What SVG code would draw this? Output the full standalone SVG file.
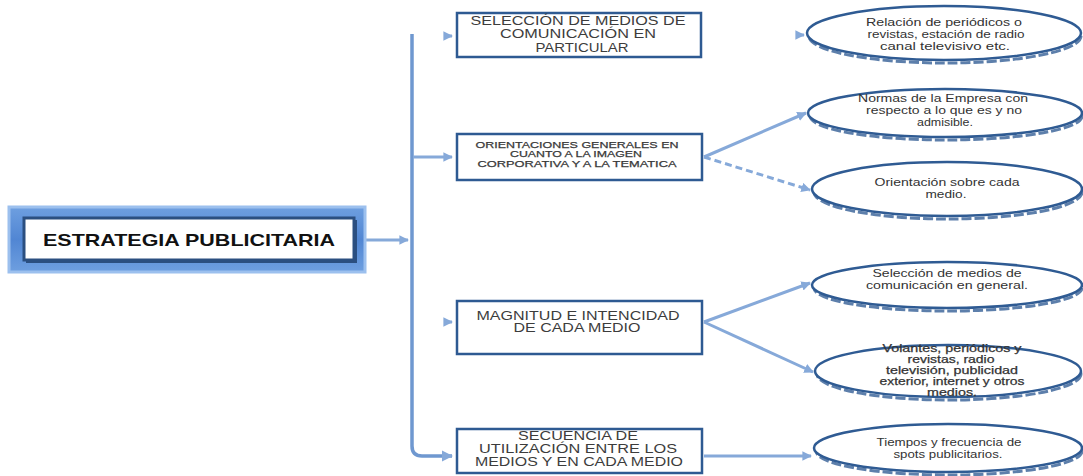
<svg xmlns="http://www.w3.org/2000/svg" width="1083" height="476" viewBox="0 0 1083 476">
  <defs>
    <style>
      .box { fill: #ffffff; stroke: #2e5a92; stroke-width: 2.5; }
      .oval { fill: #ffffff; stroke: #2f5b93; stroke-width: 2.5; }
      .oshadow { fill: none; stroke: #5d7fab; stroke-width: 3; stroke-dasharray: 10 3; }
      .bt { font-family: "Liberation Sans", Arial, sans-serif; fill: #3c3c3c; text-anchor: middle; }
      .et { font-family: "Liberation Sans", Arial, sans-serif; font-size: 11.5px; fill: #333333; text-anchor: middle; }
      .heavy { stroke: #333333; stroke-width: 0.25; }
      .wire { fill: none; stroke: #86a9d9; stroke-width: 3; }
      .trunk { fill: none; stroke: #6f98d0; stroke-width: 3.5; }
    </style>
    <marker id="arr" viewBox="0 0 10 10" refX="9" refY="5" markerWidth="3.2" markerHeight="3.2" orient="auto" markerUnits="strokeWidth">
      <path d="M0,0 L10,5 L0,10 Z" fill="#86a9d9"/>
    </marker>
    <linearGradient id="frame" x1="0" y1="0" x2="0" y2="1">
      <stop offset="0" stop-color="#6e9fe0"/>
      <stop offset="0.5" stop-color="#5186d3"/>
      <stop offset="1" stop-color="#6e9fe0"/>
    </linearGradient>
  </defs>

  <!-- connectors -->
  <g id="connectors">
    <path class="trunk" d="M412,34 V446 Q412,456 422,456 H452" marker-end="url(#arr)"/>
    <path class="wire" d="M366,240 H408" marker-end="url(#arr)"/>
    <path class="wire" d="M413,157 H452" marker-end="url(#arr)"/>
    <path class="wire" d="M444,36 H452" marker-end="url(#arr)"/>
    <path class="wire" d="M444,322 H452" marker-end="url(#arr)"/>
    <path class="wire" d="M796,35 H804" marker-end="url(#arr)"/>
    <path class="wire" d="M704,157 L806,113" marker-end="url(#arr)"/>
    <path class="wire" d="M704,157 L810,190" stroke-dasharray="7 4" marker-end="url(#arr)"/>
    <path class="wire" d="M704,322 L810,283" marker-end="url(#arr)"/>
    <path class="wire" d="M704,322 L813,372" marker-end="url(#arr)"/>
    <path class="wire" d="M704,456 H811" marker-end="url(#arr)"/>
  </g>

  <!-- root node -->
  <g id="estrategia">
    <rect x="9" y="207" width="356" height="65" fill="url(#frame)" stroke="#9cc0ee" stroke-width="3"/>
    <rect x="26" y="220" width="331" height="43" fill="#2b4f80"/>
    <rect x="24" y="218" width="330" height="42" fill="#ffffff" stroke="#2b4f80" stroke-width="3"/>
    <text x="189" y="246" font-family="Liberation Sans, Arial, sans-serif" font-weight="bold" font-size="17" fill="#111" text-anchor="middle" textLength="292" lengthAdjust="spacingAndGlyphs">ESTRATEGIA PUBLICITARIA</text>
  </g>

  <!-- second level boxes -->
  <g id="seleccion">
    <rect class="box" x="457" y="13" width="244" height="44"/>
    <text class="bt" font-size="13.5"><tspan x="578" y="25" textLength="215" lengthAdjust="spacingAndGlyphs">SELECCIÓN DE MEDIOS DE</tspan><tspan x="578" y="38" textLength="156" lengthAdjust="spacingAndGlyphs">COMUNICACIÓN EN</tspan><tspan x="582" y="52" textLength="93" lengthAdjust="spacingAndGlyphs">PARTICULAR</tspan></text>
  </g>

  <g id="orientaciones">
    <rect class="box" x="457" y="134" width="245" height="46"/>
    <text class="bt heavy" font-size="9.5" style="stroke-width:0.25"><tspan x="577" y="148" textLength="203" lengthAdjust="spacingAndGlyphs">ORIENTACIONES GENERALES EN</tspan><tspan x="576" y="157" textLength="132" lengthAdjust="spacingAndGlyphs">CUANTO A LA IMAGEN</tspan><tspan x="577" y="167" textLength="199" lengthAdjust="spacingAndGlyphs">CORPORATIVA Y A LA TEMATICA</tspan></text>
  </g>

  <g id="magnitud">
    <rect class="box" x="457" y="301" width="245" height="53"/>
    <text class="bt" font-size="12.5"><tspan x="578" y="320" textLength="203" lengthAdjust="spacingAndGlyphs">MAGNITUD E INTENCIDAD</tspan><tspan x="577" y="332" textLength="127" lengthAdjust="spacingAndGlyphs">DE CADA MEDIO</tspan></text>
  </g>

  <g id="secuencia">
    <rect class="box" x="457" y="429" width="245" height="44"/>
    <text class="bt" font-size="12.5"><tspan x="578" y="440" textLength="120" lengthAdjust="spacingAndGlyphs">SECUENCIA DE</tspan><tspan x="578" y="453" textLength="198" lengthAdjust="spacingAndGlyphs">UTILIZACIÓN ENTRE LOS</tspan><tspan x="579" y="466" textLength="208" lengthAdjust="spacingAndGlyphs">MEDIOS Y EN  CADA MEDIO</tspan></text>
  </g>

  <!-- third level ovals -->
  <g id="relacion">
    <ellipse class="oshadow" cx="945" cy="36" rx="136" ry="27"/>
    <ellipse class="oval" cx="944" cy="33" rx="137" ry="27"/>
    <text class="et"><tspan x="944" y="26" textLength="156" lengthAdjust="spacingAndGlyphs">Relación de periódicos o</tspan><tspan x="946" y="38" textLength="157" lengthAdjust="spacingAndGlyphs">revistas, estación de radio</tspan><tspan x="945" y="50" textLength="130" lengthAdjust="spacingAndGlyphs">canal televisivo etc.</tspan></text>
  </g>

  <g id="normas">
    <ellipse class="oshadow" cx="946" cy="116" rx="136" ry="24"/>
    <ellipse class="oval" cx="945" cy="113" rx="137" ry="24"/>
    <text class="et"><tspan x="943" y="102" textLength="170" lengthAdjust="spacingAndGlyphs">Normas de la Empresa con</tspan><tspan x="944" y="114" textLength="156" lengthAdjust="spacingAndGlyphs">respecto a lo que es y  no</tspan><tspan x="945" y="126" textLength="56" lengthAdjust="spacingAndGlyphs">admisible.</tspan></text>
  </g>

  <g id="orientacion">
    <ellipse class="oshadow" cx="948" cy="192" rx="134" ry="27"/>
    <ellipse class="oval" cx="947" cy="189" rx="135" ry="27"/>
    <text class="et"><tspan x="947" y="186" textLength="145" lengthAdjust="spacingAndGlyphs">Orientación sobre cada</tspan><tspan x="946" y="198" textLength="41" lengthAdjust="spacingAndGlyphs">medio.</tspan></text>
  </g>

  <g id="medios-general">
    <ellipse class="oshadow" cx="948" cy="288" rx="134" ry="23"/>
    <ellipse class="oval" cx="947" cy="285" rx="135" ry="23"/>
    <text class="et"><tspan x="947" y="277" textLength="149" lengthAdjust="spacingAndGlyphs">Selección de medios de</tspan><tspan x="947" y="289" textLength="162" lengthAdjust="spacingAndGlyphs">comunicación en general.</tspan></text>
  </g>

  <g id="volantes">
    <ellipse class="oshadow" cx="949" cy="374" rx="132" ry="26"/>
    <ellipse class="oval" cx="948" cy="371" rx="133" ry="26"/>
    <text class="et heavy" style="font-size:11px"><tspan x="952" y="352" textLength="139" lengthAdjust="spacingAndGlyphs">Volantes, periódicos y</tspan><tspan x="951" y="363" textLength="87" lengthAdjust="spacingAndGlyphs">revistas, radio</tspan><tspan x="952" y="374" textLength="132" lengthAdjust="spacingAndGlyphs">televisión, publicidad</tspan><tspan x="952" y="385" textLength="145" lengthAdjust="spacingAndGlyphs">exterior, internet y otros</tspan><tspan x="952" y="396" textLength="50" lengthAdjust="spacingAndGlyphs">medios.</tspan></text>
  </g>

  <g id="tiempos">
    <ellipse class="oshadow" cx="949" cy="451" rx="133" ry="24"/>
    <ellipse class="oval" cx="948" cy="448" rx="134" ry="24"/>
    <text class="et"><tspan x="949" y="446" textLength="145" lengthAdjust="spacingAndGlyphs">Tiempos y frecuencia de</tspan><tspan x="948" y="458" textLength="109" lengthAdjust="spacingAndGlyphs">spots publicitarios.</tspan></text>
  </g>
</svg>
